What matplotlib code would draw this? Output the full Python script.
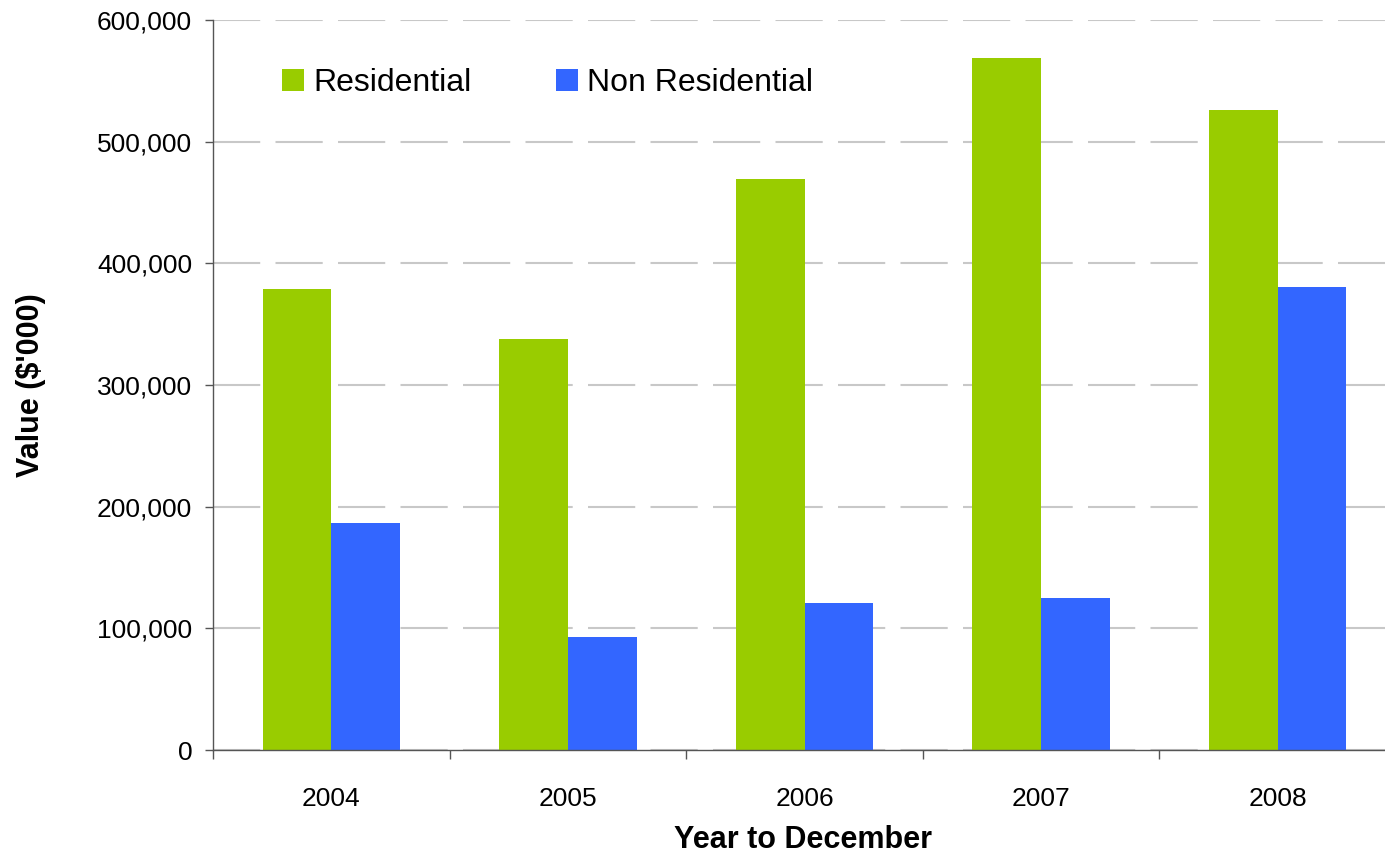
import matplotlib
matplotlib.use("Agg")
import matplotlib.pyplot as plt
from matplotlib.ticker import FuncFormatter, MultipleLocator, FixedLocator

years = ["2004", "2005", "2006", "2007", "2008"]
residential = [379000, 337500, 469000, 568500, 526000]
non_residential = [186500, 92500, 121000, 125000, 380500]

plt.rcParams["font.family"] = ["Liberation Sans", "DejaVu Sans"]
plt.rcParams["lines.scale_dashes"] = False

fig = plt.figure(figsize=(13.85, 8.6), dpi=100)
# axes right edge runs slightly past the picture, as in the reference
ax = fig.add_axes([213 / 1385, 110 / 860, 1183 / 1385, 730 / 860])

x = list(range(len(years)))
w = 0.29
ax.bar([i - w / 2 for i in x], residential, w, color="#99CC00", label="Residential", zorder=3)
ax.bar([i + w / 2 for i in x], non_residential, w, color="#3366FF", label="Non Residential", zorder=3)

ax.set_xlim(-0.5, len(years) - 0.5)
ax.set_ylim(0, 600000)
ax.yaxis.set_major_locator(MultipleLocator(100000))
ax.yaxis.set_major_formatter(FuncFormatter(lambda v, p: f"{int(v):,}"))

ax.set_xticks(x)
ax.set_xticklabels(years)
ax.xaxis.set_minor_locator(FixedLocator([i - 0.5 for i in range(len(years) + 1)]))
ax.tick_params(axis="x", which="major", length=0, pad=27, labelsize=19)
ax.tick_params(axis="x", which="minor", length=6.5, width=1, color="#555555", direction="out")
ax.tick_params(axis="y", length=6, width=1, color="#555555", pad=9, labelsize=19)

for s in ["top", "right"]:
    ax.spines[s].set_visible(False)
for s in ["left", "bottom"]:
    ax.spines[s].set_color("#555555")
    ax.spines[s].set_linewidth(1)
    ax.spines[s].set_zorder(4)

ax.yaxis.grid(True, color="#c8c8c8", linewidth=1.5, dashes=(34, 11))
ax.set_axisbelow(True)
# no dashed line on top of the x axis
ax.yaxis.get_gridlines()[0].set_visible(False)

ax.set_ylabel("Value ($'000)", fontsize=22, fontweight="bold")
ax.yaxis.set_label_coords(-0.141, 0.5)
ax.set_xlabel("Year to December", fontsize=22, fontweight="bold")
ax.xaxis.set_label_coords(0.499, -0.103)

ax.legend(loc="center left", bbox_to_anchor=(0.0583, 0.9137), ncol=2, frameon=False,
          fontsize=23, borderpad=0, borderaxespad=0, handlelength=0.69,
          handleheight=0.69, handletextpad=0.28, columnspacing=2.65)

fig.savefig("out.png", dpi=100)
